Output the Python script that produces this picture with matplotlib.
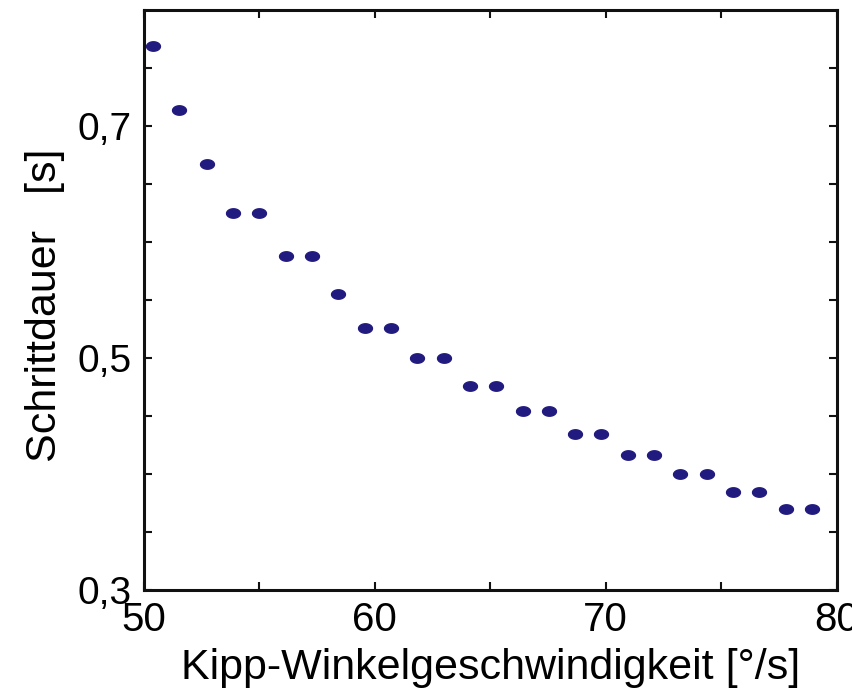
import numpy as np
import matplotlib.pyplot as plt
from matplotlib.path import Path

# Kipp-Winkelgeschwindigkeit [deg/s]
speed = [50.40, 51.53, 52.71, 53.87, 54.99, 56.13, 57.27, 58.41, 59.57, 60.69,
         61.82, 62.99, 64.11, 65.24, 66.41, 67.53, 68.66, 69.78, 70.95, 72.08,
         73.20, 74.37, 75.50, 76.62, 77.79, 78.92]
# Schrittdauer [s]
duration = [0.769, 0.714, 0.667, 0.625, 0.625, 0.588, 0.588, 0.555, 0.526, 0.526,
            0.500, 0.500, 0.476, 0.476, 0.454, 0.454, 0.4345, 0.4345, 0.4164, 0.4164,
            0.400, 0.400, 0.3847, 0.3847, 0.3698, 0.3698]

x_ticks = [50, 55, 60, 65, 70, 75, 80]
x_labels = ["50", "", "60", "", "70", "", "80"]
y_ticks = [0.3, 0.35, 0.4, 0.45, 0.5, 0.55, 0.6, 0.65, 0.7, 0.75]
y_labels = ["0,3", "", "", "", "0,5", "", "", "", "0,7", ""]

plt.rcParams['font.family'] = ['Liberation Sans', 'DejaVu Sans']

# flat ellipse marker
t = np.linspace(0, 2 * np.pi, 40)
ellipse = Path(np.column_stack([np.cos(t), 0.68 * np.sin(t)]), closed=True)

fig = plt.figure(figsize=(8.52, 6.95), dpi=100)
ax = fig.add_axes([0.169, 0.151, 0.813, 0.835])

ax.plot(speed, duration, linestyle='none', marker=ellipse, markersize=10,
        color='#211b80')

ax.set_xlim(50, 80)
ax.set_ylim(0.3, 0.8)
ax.set_xticks(x_ticks, x_labels)
ax.set_yticks(y_ticks, y_labels)
ax.tick_params(direction='in', length=6, width=1.5, top=True, right=True,
               labelsize=28, color='#111111')
ax.tick_params(axis='y', pad=9)
ax.tick_params(axis='x', pad=8, labelsize=29)

for s in ax.spines.values():
    s.set_linewidth(2.2)
    s.set_color('#111111')

ax.set_xlabel("Kipp-Winkelgeschwindigkeit [°/s]", fontsize=31)
ax.set_ylabel("Schrittdauer   [s]", fontsize=31)
ax.xaxis.set_label_coords(0.5, -0.1)
ax.yaxis.set_label_coords(-0.114, 0.49)

fig.savefig("out.png", dpi=100)
